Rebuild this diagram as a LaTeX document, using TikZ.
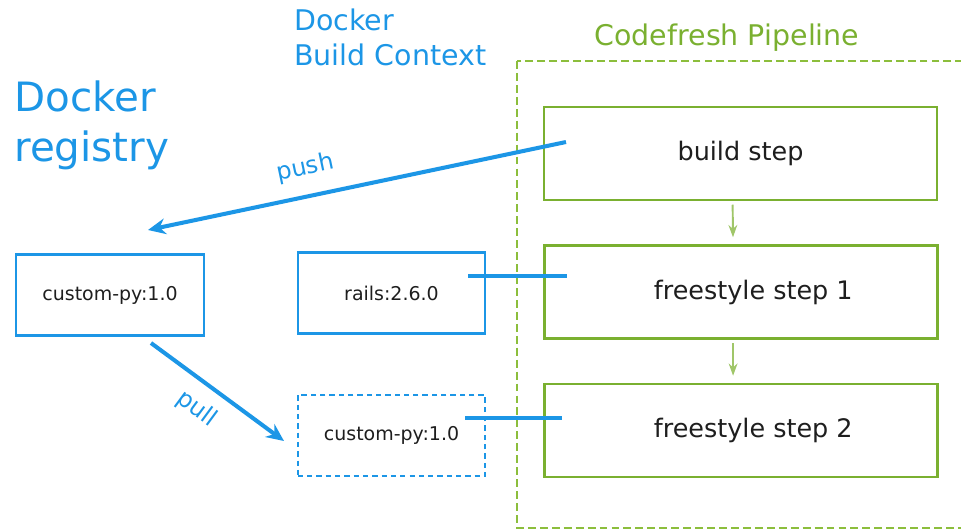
\documentclass[tikz,border=0pt]{standalone}
\usepackage{fontspec}
\setmainfont{DejaVu Sans}
\usetikzlibrary{arrows.meta}

\definecolor{dockerblue}{RGB}{28,150,230}
\definecolor{cfgreen}{RGB}{122,176,48}
\definecolor{cfframe}{RGB}{140,190,60}
\definecolor{cflight}{RGB}{160,198,105}
\definecolor{steptext}{RGB}{30,30,30}

\tikzset{
  pipestep/.style={draw=cfgreen, line width=1.4pt, inner sep=0pt,
    minimum width=7.86cm, minimum height=1.86cm, text=steptext,
    font=\fontsize{14.5}{17}\selectfont},
  imagebox/.style={draw=dockerblue, line width=1.3pt, inner sep=0pt,
    minimum width=3.75cm, minimum height=1.62cm, text=steptext,
    font=\fontsize{10.8}{13}\selectfont},
  localbox/.style={imagebox, line width=1pt, dash pattern=on 3pt off 2.3pt},
  dockerarrow/.style={draw=dockerblue, line width=2.3pt,
    -{Stealth[length=10pt,width=9pt]}},
  dockerlink/.style={draw=dockerblue, line width=2.3pt},
  stepflow/.style={draw=cflight, line width=1.1pt,
    -{Stealth[length=7pt,width=5pt]}, shorten <=2pt, shorten >=4pt},
  arrowlabel/.style={text=dockerblue, font=\fontsize{13.6}{16}\selectfont}
}

\begin{document}
\begin{tikzpicture}[x=0.02cm, y=-0.02cm]
\useasboundingbox (0,0) rectangle (961,529);
\clip (0,0) rectangle (961,529);

% titles
\node[anchor=north west, inner sep=0pt, align=left, text=dockerblue,
  font=\fontsize{23}{28.5}\selectfont] (regtitle) at (14,80) {Docker\\registry};
\node[anchor=north west, inner sep=0pt, align=left, text=dockerblue,
  font=\fontsize{16.2}{19.8}\selectfont] (ctxtitle) at (294,9) {Docker\\Build Context};
\node[anchor=base, inner sep=0pt, text=cfgreen,
  font=\fontsize{16.2}{19.8}\selectfont] (pipetitle) at (727,45) {Codefresh Pipeline};

% pipeline
\draw[cfframe, line width=1.1pt, dash pattern=on 4.5pt off 2.3pt]
  (517,61) rectangle (990,528);

\node[pipestep] (build) at (740.5,153.5) {build step};
\node[pipestep] (fs1) at (741,292) {\hspace{14pt}freestyle step 1};
\node[pipestep] (fs2) at (741,430.5) {\hspace{14pt}freestyle step 2};

\draw[stepflow] ([xshift=-4.5pt]build.south) -- ([xshift=-4.5pt]fs1.north);
\draw[stepflow] ([xshift=-4.5pt]fs1.south) -- ([xshift=-4.5pt]fs2.north);

% images
\node[imagebox] (regimage) at (110,295) {custom-py:1.0};
\node[imagebox] (rails) at (391.5,293) {rails:2.6.0};
\node[localbox] (localimage) at (391.5,435.5) {custom-py:1.0};

% push / pull
\coordinate (pushfrom) at (566,142);
\coordinate (pushto) at (148,230);
\coordinate (pullfrom) at (151,343);
\coordinate (pullto) at (284,441);

\draw[dockerarrow] (pushfrom) -- node[arrowlabel, pos=0.61, above=5pt, sloped] {push} (pushto);
\draw[dockerarrow] (pullfrom) -- node[arrowlabel, pos=0.46, below=4pt, sloped] {pull} (pullto);

% images used by the steps
\coordinate (railsend) at (468,276);
\coordinate (fs1end) at (567,276);
\coordinate (localend) at (465,418);
\coordinate (fs2end) at (562,418);

\draw[dockerlink] (railsend) -- (fs1end);
\draw[dockerlink] (localend) -- (fs2end);
\end{tikzpicture}
\end{document}
